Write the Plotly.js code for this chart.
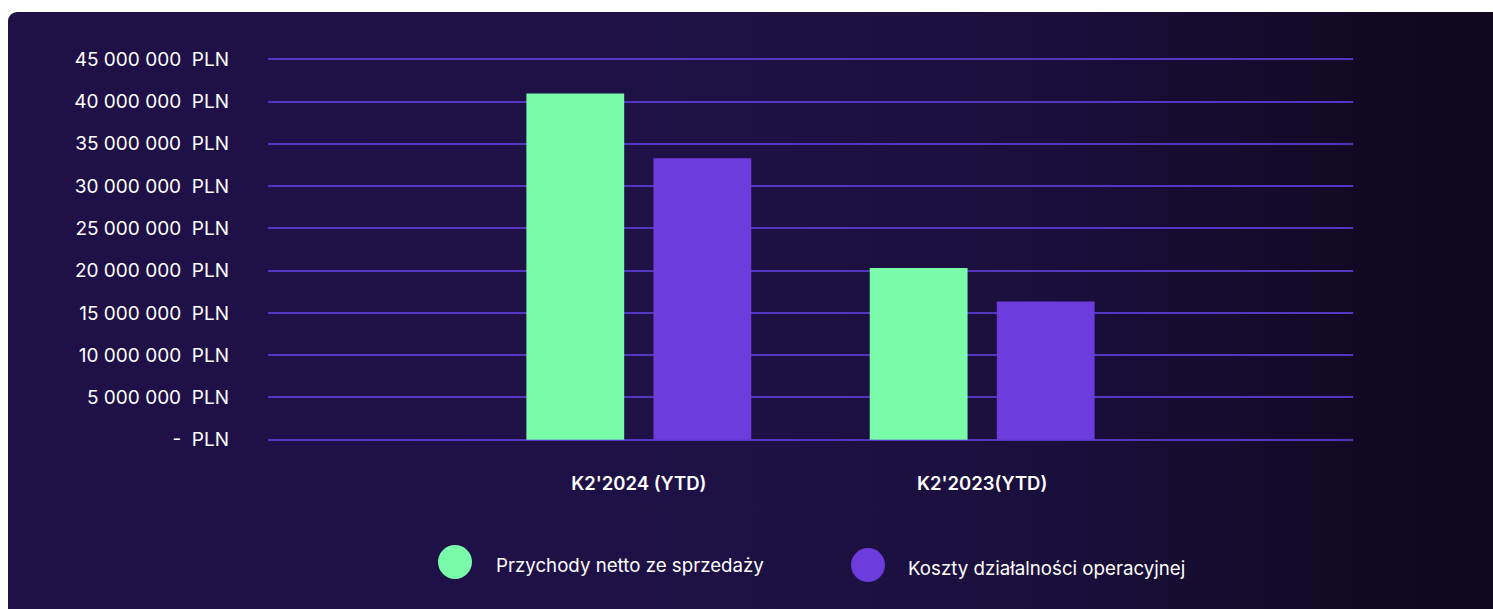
<!DOCTYPE html>
<html>
<head>
<meta charset="utf-8">
<script src="https://cdn.plot.ly/plotly-3.0.1.min.js"></script>
<style>
  html, body { margin: 0; padding: 0; background: #ffffff; width: 1493px; height: 609px; overflow: hidden; }
  #card { position: absolute; left: 8px; top: 12px; width: 1500px; height: 610px; border-radius: 9px;
          background: linear-gradient(90deg, #1f1148 0%, #1e1146 45%, #1a0f3c 70%, #110922 92%, #0f081d 100%); }
  #chart { position: absolute; left: 0; top: 0; width: 1493px; height: 609px; }
</style>
</head>
<body>
<div id="card"></div>
<div id="chart"></div>
<script>
const categories = ["K2'2024 (YTD)", "K2'2023(YTD)"];
const seriesNames = ["Przychody netto ze sprzedaży", "Koszty działalności operacyjnej"];
const revenue = [40950000, 20300000];
const opCosts = [33300000, 16350000];
const tickValues = [0, 5000000, 10000000, 15000000, 20000000, 25000000, 30000000, 35000000, 40000000, 45000000];
const tickLabels = ["-  PLN", "5 000 000  PLN", "10 000 000  PLN", "15 000 000  PLN", "20 000 000  PLN",
                    "25 000 000  PLN", "30 000 000  PLN", "35 000 000  PLN", "40 000 000  PLN", "45 000 000  PLN"];
const colors = ["#79fbaa", "#6c3cdc"];

const FONT = "Inter, 'Noto Sans', sans-serif";

const traces = [
  { type: 'bar', x: categories, y: revenue, name: seriesNames[0], marker: { color: colors[0] }, showlegend: false, hoverinfo: 'skip' },
  { type: 'bar', x: categories, y: opCosts, name: seriesNames[1], marker: { color: colors[1] }, showlegend: false, hoverinfo: 'skip' }
];

const legendPos = [
  { cx: 455, cy: 562, tx: 494, ty: 565 },
  { cx: 868, cy: 565, tx: 906, ty: 568 }
];
const W = 1493, H = 609, R = 17;
const margin = { l: 268, r: 140, t: 58, b: 168 };
const pw = W - margin.l - margin.r, ph = H - margin.t - margin.b;
const px2x = v => (v - margin.l) / pw;
const py2y = v => (H - v - margin.b) / ph;

const shapes = [], annotations = [];
seriesNames.forEach((n, i) => {
  const p = legendPos[i];
  shapes.push({ type: 'circle', xref: 'paper', yref: 'paper',
    x0: px2x(p.cx - R), x1: px2x(p.cx + R), y0: py2y(p.cy + R), y1: py2y(p.cy - R),
    fillcolor: colors[i], line: { width: 0 } });
  annotations.push({ xref: 'paper', yref: 'paper', x: px2x(p.tx), y: py2y(p.ty), xanchor: 'left', yanchor: 'middle',
    text: n, showarrow: false, font: { family: FONT, size: 18.7, color: '#ffffff' } });
});

const layout = {
  width: W, height: H,
  paper_bgcolor: 'rgba(0,0,0,0)', plot_bgcolor: 'rgba(0,0,0,0)',
  margin: margin,
  barmode: 'group', bargap: 0.26, bargroupgap: 0.23,
  showlegend: false,
  font: { family: FONT, color: '#ffffff' },
  xaxis: { type: 'category', range: [-1.08, 2.08], showgrid: false, zeroline: false, showline: false,
    ticks: '', ticklabelstandoff: 29, tickfont: { family: FONT, size: 18.5, color: '#ffffff', weight: 600 }, fixedrange: true },
  yaxis: { range: [-150000, 45150000], tickvals: tickValues, ticktext: tickLabels, showgrid: true,
    gridcolor: '#5536c2', gridwidth: 2, zeroline: false, showline: false, ticks: '',
    ticklabelstandoff: 38, tickfont: { family: FONT, size: 19, color: '#ffffff' }, fixedrange: true },
  shapes: shapes, annotations: annotations
};

Plotly.newPlot('chart', traces, layout, { displayModeBar: false, staticPlot: true });
</script>
</body>
</html>
